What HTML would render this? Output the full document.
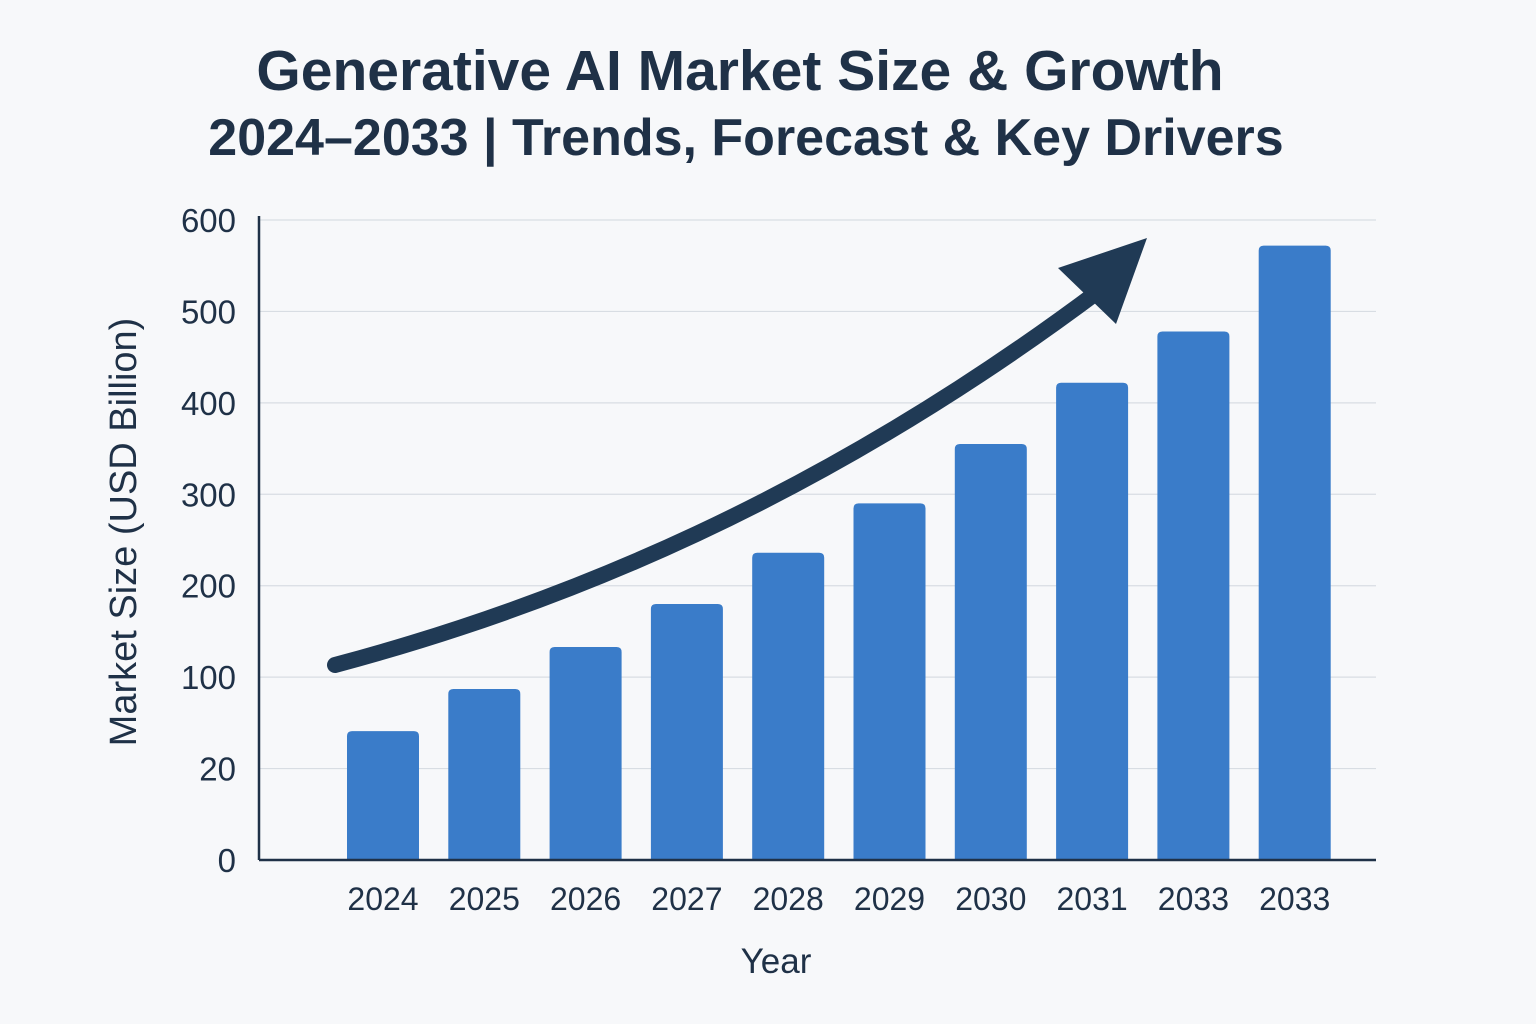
<!DOCTYPE html>
<html><head><meta charset="utf-8"><style>
html,body{margin:0;padding:0;background:#f7f8fa;}
svg{display:block;font-family:"Liberation Sans",sans-serif;}
</style></head><body>
<svg id="chart" width="1536" height="1024" viewBox="0 0 1536 1024">
<rect width="1536" height="1024" fill="#f7f8fa"/>
<text x="740" y="90" text-anchor="middle" font-size="57" font-weight="bold" fill="#1f3147">Generative AI Market Size &amp; Growth</text>
<text x="746" y="155" text-anchor="middle" font-size="52" font-weight="bold" fill="#1f3147">2024–2033 | Trends, Forecast &amp; Key Drivers</text>
<g id="grid"></g>
<g id="bars"></g>
<g id="xlabels"></g>
<g id="ylabels"></g>
<line x1="259" y1="216" x2="259" y2="860" stroke="#1f3147" stroke-width="2.5"/>
<line x1="259" y1="860" x2="1376" y2="860" stroke="#1f3147" stroke-width="2.5"/>
<path d="M335,665 C560,605 820,500 1100,290" fill="none" stroke="#203a55" stroke-width="16" stroke-linecap="round"/>
<polygon points="1147,238 1058,268 1116,324" fill="#203a55"/>
<text x="776" y="973" text-anchor="middle" font-size="35" font-weight="500" fill="#1f3147">Year</text>
<text transform="translate(136,532) rotate(-90)" text-anchor="middle" font-size="38" font-weight="500" fill="#1f3147">Market Size (USD Billion)</text>
</svg>
<script>
const categories = ['2024','2025','2026','2027','2028','2029','2030','2031','2033','2033'];
const values = [141,187,233,280,336,390,455,522,578,672];
const tickValues = [0,100,200,300,400,500,600,700];
const tickLabels = ['0','20','100','200','300','400','500','600'];
const NS='http://www.w3.org/2000/svg';
const y0=860,y1=220,vmax=700;
function yScale(v){return y0-(v/vmax)*(y0-y1);}
const c0=383,step=101.3,bw=72;
function xCenter(i){return c0+i*step;}
function mk(tag,attrs,parent){const e=document.createElementNS(NS,tag);for(const k in attrs)e.setAttribute(k,attrs[k]);document.getElementById(parent).appendChild(e);return e;}
tickValues.forEach((v,i)=>{
  const y=yScale(v);
  if(v>0){const g=mk('line',{x1:259,x2:1376,y1:y,y2:y,stroke:'#d8dde3','stroke-width':1.2},'grid');
  
  }
  const t=mk('text',{x:236,y:y+12,'text-anchor':'end','font-size':33,'font-weight':500,fill:'#1f3147'},'ylabels');
  t.textContent=tickLabels[i];
  
  
});
categories.forEach((c,i)=>{
  const cx=xCenter(i),top=yScale(values[i]);
  const r=mk('path',{d:`M${cx-bw/2},${y0} L${cx-bw/2},${top+5} Q${cx-bw/2},${top} ${cx-bw/2+5},${top} L${cx+bw/2-5},${top} Q${cx+bw/2},${top} ${cx+bw/2},${top+5} L${cx+bw/2},${y0} Z`,fill:'#3a7cc9'},'bars');
  
  
  const t=mk('text',{x:cx,y:910,'text-anchor':'middle','font-size':32,'font-weight':500,fill:'#1f3147'},'xlabels');
  t.textContent=c;
  
  
});
</script>
</body></html>
